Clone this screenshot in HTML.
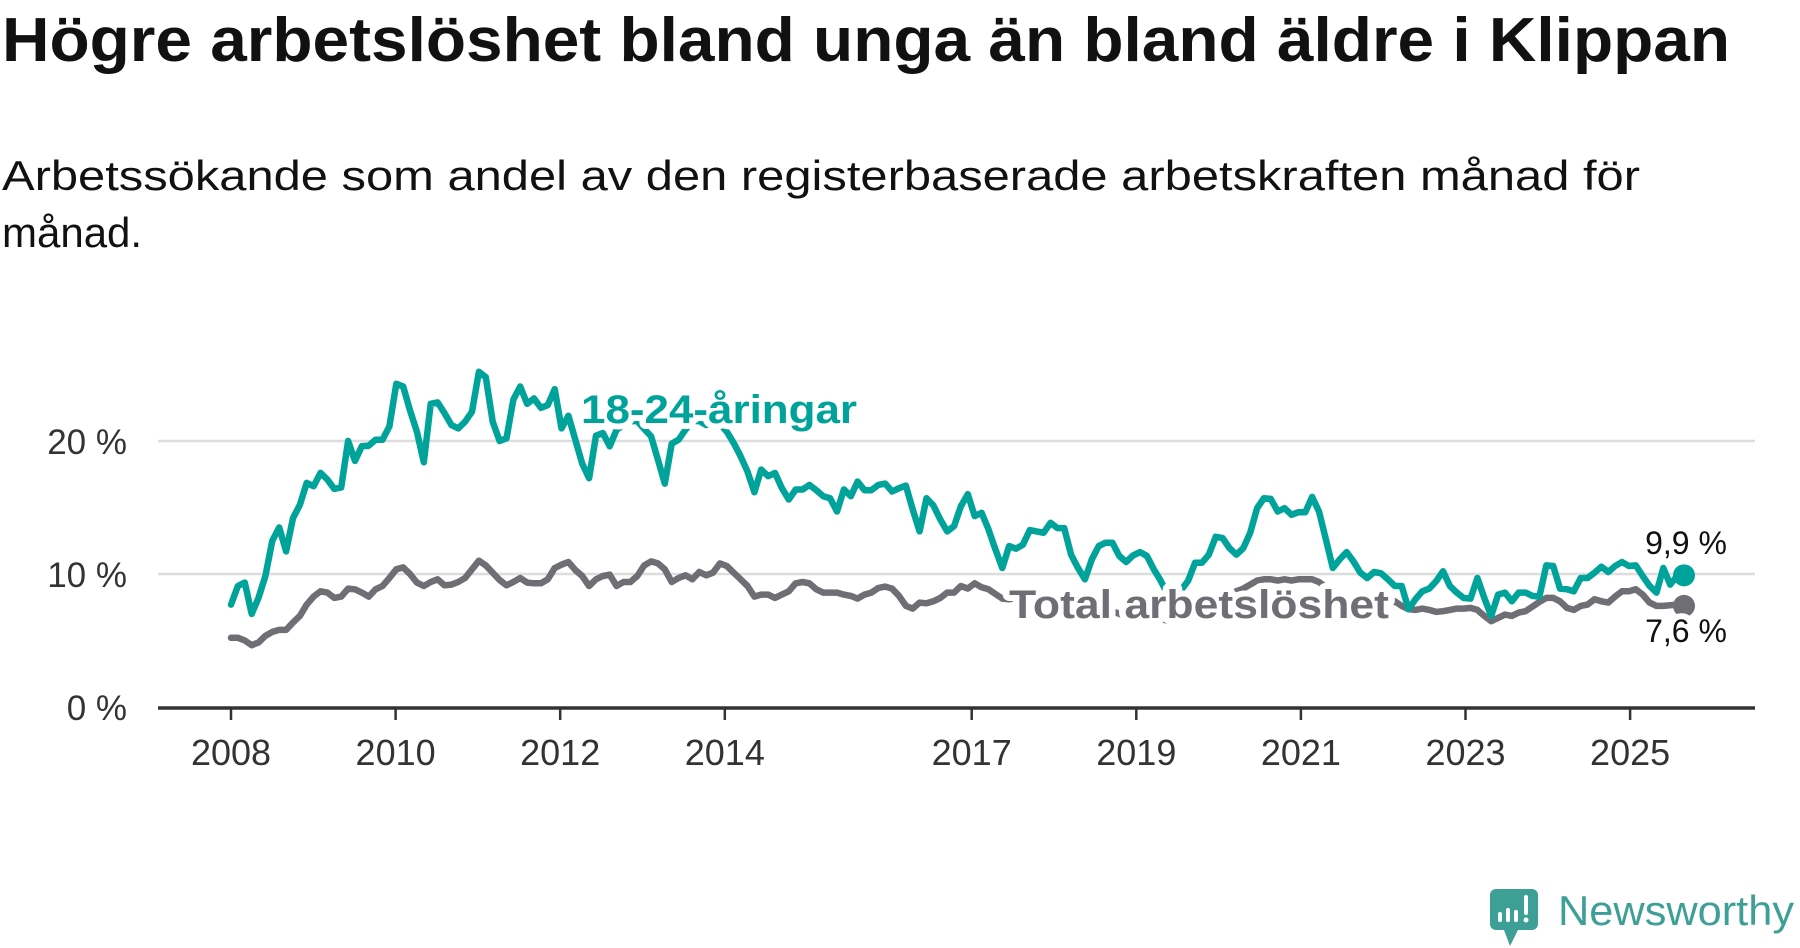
<!DOCTYPE html>
<html><head><meta charset="utf-8"><style>
html,body{margin:0;padding:0;background:#fff;}
svg{display:block;font-family:"Liberation Sans",sans-serif;}
</style></head><body>
<svg id="chart" width="1800" height="948" viewBox="0 0 1800 948">
<text x="2" y="61" font-size="62" font-weight="bold" fill="#111" textLength="1728" lengthAdjust="spacingAndGlyphs">Högre arbetslöshet bland unga än bland äldre i Klippan</text>
<text x="2" y="190" font-size="42" fill="#111" textLength="1638" lengthAdjust="spacingAndGlyphs">Arbetssökande som andel av den registerbaserade arbetskraften månad för</text>
<text x="2" y="247" font-size="42" fill="#111">månad.</text>
<g id="grid"></g><g id="axis"></g><g id="series"></g><g id="labels"></g>
<g>
<path d="M1496 889 h36 a6 6 0 0 1 6 6 v29 a6 6 0 0 1 -6 6 h-14 l-8 16 l-6 -16 h-8 a6 6 0 0 1 -6 -6 v-29 a6 6 0 0 1 6 -6z" fill="#3d9f96"/>
<rect x="1498" y="912" width="4" height="10" rx="2" fill="#fff"/><rect x="1506" y="908" width="4" height="14" rx="2" fill="#fff"/><rect x="1514" y="910" width="4" height="12" rx="2" fill="#fff"/><rect x="1524" y="895" width="4" height="20" rx="2" fill="#fff"/><circle cx="1526" cy="920" r="2.5" fill="#fff"/>
<text x="1558" y="925" font-size="42" fill="#3d9f96" textLength="236" lengthAdjust="spacingAndGlyphs">Newsworthy</text>
</g>
</svg>
<script>
const yTicks=[0,10,20];
const yTickLabels=["0 %","10 %","20 %"];
const xTicks=[2008,2010,2012,2014,2017,2019,2021,2023,2025];
const startYear=2008;
const youth=[7.7,9.1,9.35,7.0,8.2,9.85,12.5,13.5,11.7,14.2,15.2,16.85,16.6,17.6,17.1,16.4,16.5,20.0,18.5,19.6,19.65,20.1,20.1,21.1,24.3,24.1,22.3,20.7,18.4,22.8,22.9,22.1,21.2,20.95,21.45,22.2,25.2,24.8,21.45,20.0,20.2,23.1,24.1,22.8,23.2,22.5,22.7,23.9,20.95,21.9,20.1,18.3,17.2,20.4,20.6,19.6,20.85,21.2,21.5,21.5,20.9,20.35,18.6,16.8,19.8,20.1,20.85,21.5,21.5,21.2,21.3,21.3,20.7,19.85,18.85,17.7,16.15,17.85,17.35,17.6,16.45,15.6,16.35,16.35,16.7,16.3,15.85,15.7,14.7,16.35,15.85,16.95,16.3,16.3,16.7,16.8,16.2,16.45,16.65,14.85,13.2,15.7,15.15,14.1,13.2,13.6,15.1,16.0,14.35,14.6,13.35,11.85,10.45,12.1,11.9,12.2,13.3,13.2,13.1,13.85,13.45,13.45,11.45,10.45,9.6,11.1,12.1,12.35,12.35,11.35,10.9,11.4,11.65,11.35,10.35,9.5,8.5,8.0,8.8,9.5,10.85,10.85,11.45,12.8,12.7,11.95,11.45,11.95,13.1,14.95,15.7,15.65,14.7,14.95,14.45,14.65,14.65,15.8,14.7,12.6,10.45,11.1,11.65,10.95,10.1,9.7,10.15,10.05,9.6,9.1,9.1,7.35,8.1,8.7,8.9,9.45,10.2,9.1,8.6,8.2,8.15,9.7,8.2,6.85,8.45,8.6,7.95,8.6,8.6,8.35,8.3,10.65,10.6,8.9,8.85,8.7,9.7,9.7,10.1,10.55,10.15,10.6,10.9,10.6,10.65,9.85,9.1,8.6,10.45,9.2,9.85,9.9];
const total=[5.2,5.2,5.0,4.65,4.85,5.35,5.65,5.8,5.8,6.35,6.85,7.7,8.3,8.7,8.6,8.2,8.3,8.9,8.85,8.6,8.3,8.85,9.1,9.7,10.35,10.5,10.0,9.35,9.1,9.4,9.6,9.15,9.2,9.4,9.7,10.35,11.0,10.65,10.1,9.55,9.15,9.4,9.7,9.35,9.3,9.3,9.6,10.45,10.7,10.9,10.3,9.85,9.1,9.6,9.85,9.95,9.1,9.4,9.4,9.85,10.65,10.95,10.8,10.35,9.4,9.7,9.9,9.6,10.15,9.9,10.1,10.8,10.6,10.1,9.6,9.1,8.3,8.45,8.45,8.2,8.45,8.7,9.3,9.4,9.3,8.85,8.6,8.6,8.6,8.45,8.35,8.15,8.45,8.6,8.95,9.05,8.9,8.35,7.6,7.4,7.85,7.8,7.95,8.2,8.6,8.6,9.1,8.9,9.3,9.0,8.85,8.5,8.15,8.1,8.2,8.0,7.9,7.8,7.9,7.8,7.6,7.5,7.3,7.2,7.0,7.1,7.2,7.3,7.2,7.0,6.8,6.9,7.0,6.9,6.7,6.6,6.5,6.6,6.8,7.0,7.3,7.5,7.8,8.1,8.3,8.5,8.7,8.9,9.2,9.5,9.6,9.6,9.5,9.6,9.5,9.6,9.6,9.6,9.4,9.0,8.6,8.4,8.2,8.0,7.9,7.9,7.9,7.9,7.8,7.95,7.6,7.35,7.3,7.4,7.3,7.15,7.2,7.3,7.4,7.4,7.45,7.3,6.85,6.45,6.7,6.95,6.85,7.1,7.2,7.55,7.9,8.2,8.2,7.95,7.45,7.3,7.6,7.7,8.1,7.95,7.85,8.3,8.7,8.7,8.85,8.45,7.85,7.6,7.6,7.65,7.7,7.6];
const endLabels=["9,9 %","7,6 %"];

const NS="http://www.w3.org/2000/svg";
const X0=231, PXY=82.3, Y0=707, PXV=13.3;
const xYear=t=>X0+(t-startYear)*PXY;
const xMonth=i=>X0+i*(1684-X0)/(youth.length-1);
const yv=v=>Y0-v*PXV;
function mk(tag,attrs,parent){const e=document.createElementNS(NS,tag);for(const k in attrs)e.setAttribute(k,attrs[k]);parent.appendChild(e);return e;}
const grid=document.getElementById('grid'),axis=document.getElementById('axis'),series=document.getElementById('series'),labels=document.getElementById('labels');
yTicks.forEach((v,i)=>{
  if(v>0){const g=mk('line',{x1:158,x2:1755,y1:yv(v),y2:yv(v),stroke:'#dddddd','stroke-width':2.5},grid);
  
  }
  const t=mk('text',{x:127,y:yv(v)+13,'font-size':35,fill:'#333','text-anchor':'end'},axis);
  t.textContent=yTickLabels[i];
  
  
});
const ax=mk('line',{x1:158,x2:1755,y1:708,y2:708,stroke:'#333','stroke-width':3.5},axis);


xTicks.forEach(yr=>{
  const x=xYear(yr);
  const tk=mk('line',{x1:x,x2:x,y1:708,y2:720,stroke:'#333','stroke-width':2.5},axis);
  
  
  const t=mk('text',{x:x,y:765,'font-size':36,fill:'#333','text-anchor':'middle'},axis);
  t.textContent=yr;
  
  
});
function line(data,color,name){
  const d=data.map((v,i)=>(i?'L':'M')+xMonth(i).toFixed(1)+' '+yv(v).toFixed(1)).join(' ');
  const p=mk('path',{d:d,fill:'none',stroke:color,'stroke-width':6.5,'stroke-linejoin':'round','stroke-linecap':'round'},series);
  
  
  const n=data.length-1;
  const c=mk('circle',{cx:xMonth(n),cy:yv(data[n]),r:11,fill:color},series);
  
  
}
line(total,'#6f6e74','total-line');
line(youth,'#00a39a','youth-line');
function lab(txt,x,y,color,size,weight,name,anchor,len){
  const a={x:x,y:y,'font-size':size,'font-weight':weight,fill:color,stroke:'#fff','stroke-width':12,'paint-order':'stroke','stroke-linejoin':'round','text-anchor':anchor||'start'};
  if(len){a.textLength=len;a.lengthAdjust='spacingAndGlyphs';}
  const t=mk('text',a,labels);
  t.textContent=txt;
  
  
}
lab('18-24-åringar',581,423,'#00a39a',40,'bold','youth-series-label','start',276);
lab('Total arbetslöshet',1009,618,'#6f6e74',40,'bold','total-series-label','start',380);
lab(endLabels[0],1686,554,'#111',32,'normal','youth-end-value','middle');
lab(endLabels[1],1686,642,'#111',32,'normal','total-end-value','middle');
</script>
</body></html>
